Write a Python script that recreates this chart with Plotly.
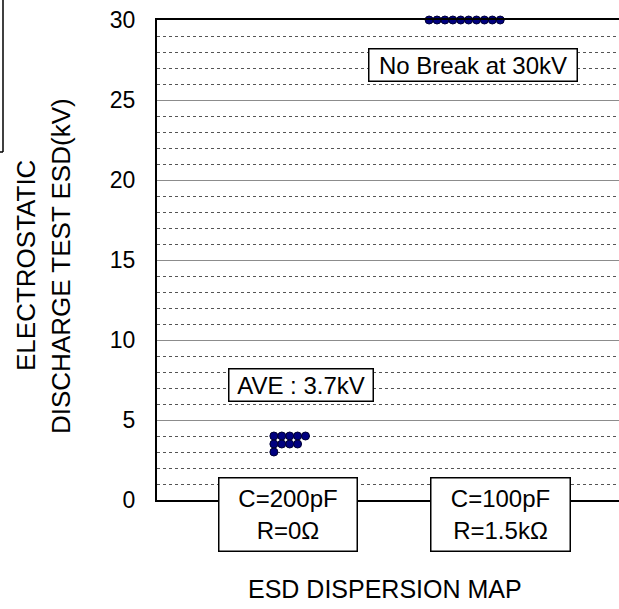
import plotly.graph_objects as go

# ---- data ----
categories = ["C=200pF<br>R=0Ω", "C=100pF<br>R=1.5kΩ"]
esd_200pF = [4, 4, 4, 4, 4, 3.5, 3.5, 3.5, 3.5, 3]
esd_100pF = [30, 30, 30, 30, 30, 30, 30, 30, 30, 30]
series = [esd_200pF, esd_100pF]
ave_label = "AVE : 3.7kV"
nobreak_label = "No Break at 30kV"
y_title_lines = ["ELECTROSTATIC", "DISCHARGE TEST ESD(kV)"]
x_title = "ESD DISPERSION MAP"
y_ticks = [0, 5, 10, 15, 20, 25, 30]

# ---- layout constants ----
W, H = 619, 609
PL, PR, PT, PB = 157, 619, 20, 500   # plot area in pixels
cat_start = [0.253, 0.589]   # where each dot stack begins (x axis units)
dot_step = 0.0171

FONT = "Liberation Sans, Arial, sans-serif"

fig = go.Figure()
for ci, vals in enumerate(series):
    xs, ys = [], []
    counts = {}
    for v in vals:
        k = counts.get(v, 0)
        counts[v] = k + 1
        xs.append(cat_start[ci] + k * dot_step)
        ys.append(v)
    fig.add_trace(go.Scatter(
        x=xs, y=ys, mode="markers",
        marker=dict(size=8, color="#000080", line=dict(color="#000033", width=1)),
        showlegend=False, hoverinfo="y", cliponaxis=False))

fig.update_layout(
    width=W, height=H,
    margin=dict(l=PL, r=W - PR, t=PT, b=H - PB, pad=0),
    plot_bgcolor="white", paper_bgcolor="white",
    font=dict(family=FONT, size=22, color="black"),
    showlegend=False,
)
fig.update_xaxes(
    range=[0, 1], showgrid=False, zeroline=False, showticklabels=False, ticks="",
    showline=True, linecolor="black", linewidth=2, mirror=True,
)
fig.update_yaxes(
    range=[0, 30], tickvals=y_ticks, ticks="", ticklen=0,
    showline=True, linecolor="black", linewidth=2,
    showgrid=True, gridcolor="#8c8c8c", gridwidth=1, zeroline=False,
    tickfont=dict(size=23), ticklabelstandoff=15,
    minor=dict(dtick=1, showgrid=True, gridcolor="#555555", griddash="dot", gridwidth=1),
)

def px_x(px):
    return (px - PL) / (PR - PL)
def px_y(py):
    return (PB - py) / (PB - PT)

ann = []
box = dict(bordercolor="black", borderwidth=1.5, bgcolor="white")
common = dict(xref="paper", yref="paper", showarrow=False, xanchor="center", yanchor="middle")
ann.append(dict(text=ave_label, x=px_x(301), y=px_y(385), font=dict(size=24),
                borderpad=4, width=135, height=23, **box, **common))
ann.append(dict(text=nobreak_label, x=px_x(473), y=px_y(65.3), font=dict(size=24),
                borderpad=4, width=199, height=23, **box, **common))
ann.append(dict(text=categories[0], x=px_x(288), y=px_y(514), font=dict(size=24),
                borderpad=6, width=125, height=60, **box, **common))
ann.append(dict(text=categories[1], x=px_x(500.5), y=px_y(514), font=dict(size=24),
                borderpad=6, width=126, height=60, **box, **common))
ann.append(dict(text=x_title, x=px_x(385), y=px_y(589), font=dict(size=25), **common))
ann.append(dict(text=y_title_lines[0], x=px_x(26), y=px_y(266),
                textangle=-90, font=dict(size=26), **common))
ann.append(dict(text=y_title_lines[1], x=px_x(61), y=px_y(266),
                textangle=-90, font=dict(size=26), **common))
fig.update_layout(annotations=ann)

# partial frame of a neighbouring object at the top-left corner
fig.add_shape(type="line", xref="paper", yref="paper", x0=px_x(3), x1=px_x(3),
              y0=px_y(0), y1=px_y(152), line=dict(color="black", width=1.5))
fig.add_shape(type="line", xref="paper", yref="paper", x0=px_x(0), x1=px_x(3),
              y0=px_y(152), y1=px_y(152), line=dict(color="black", width=1.5))

fig.write_html("out.html", config={"displayModeBar": False},
               post_script="document.body.style.margin='0';document.body.style.overflow='hidden';")
